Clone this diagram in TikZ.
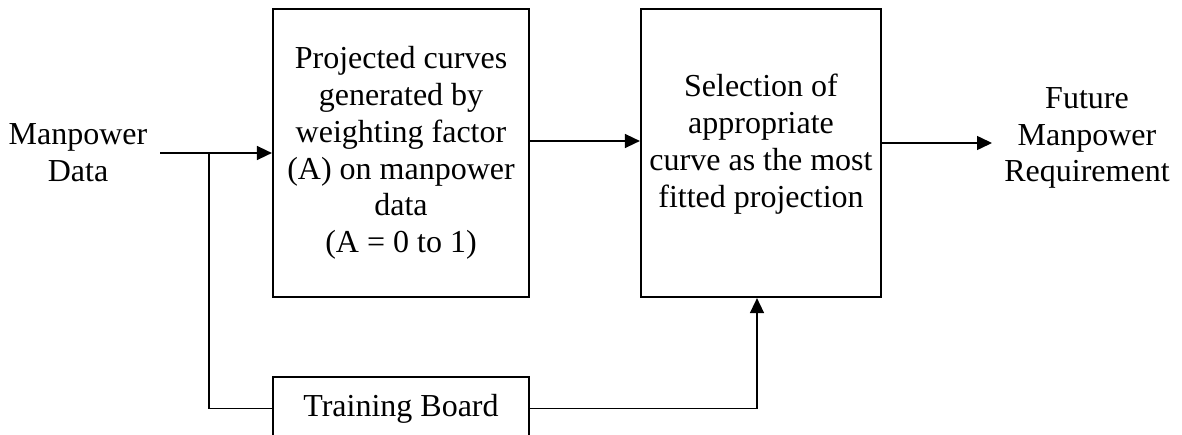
\documentclass[tikz,border=0pt]{standalone}
\usepackage{fontspec}
\setmainfont{Liberation Serif}
\usetikzlibrary{arrows.meta}
\begin{document}
\begin{tikzpicture}[x=1pt,y=-1pt,
  every node/.style={font=\fontsize{32}{36.8}\selectfont},
  boxnode/.style={draw,line width=2.2pt,align=center,inner sep=0pt},
  plain/.style={align=center},
  link/.style={line width=1.5pt},
  arr/.style={line width=1.5pt,-{Triangle[length=15pt,width=14pt]}}]
\clip (0,0) rectangle (1182,435);
\useasboundingbox (0,0) rectangle (1182,435);
\node[plain] (inp) at (78,153) {Manpower\\Data};
\node[boxnode,minimum width=256pt,minimum height=288pt] (b1) at (401,153)
  {Projected curves\\generated by\\weighting factor\\(A) on manpower\\data\\(A = 0 to 1)};
\node[boxnode,minimum width=240pt,minimum height=288pt] (b2) at (761,153) {};
\node[plain] (b2t) at (761,144)
  {Selection of\\appropriate\\curve as the most\\fitted projection};
\node[plain] (out) at (1087,138) {Future\\Manpower\\Requirement};
\node[boxnode,minimum width=256pt,minimum height=63pt] (tb) at (401,408.5) {Training Board};
\coordinate (s) at (160,153);
\coordinate (br) at (209,153);
\coordinate (oe) at (992,143);
\draw[arr] (s) -- (b1.west);
\draw[link] (br) |- (tb.west);
\draw[arr] ([yshift=12pt]b1.east) -- ([yshift=12pt]b2.west);
\draw[arr] (b2.east |- oe) -- (oe);
\draw[arr] (tb.east) -| ([xshift=-4pt]b2.south);
\end{tikzpicture}
\end{document}
